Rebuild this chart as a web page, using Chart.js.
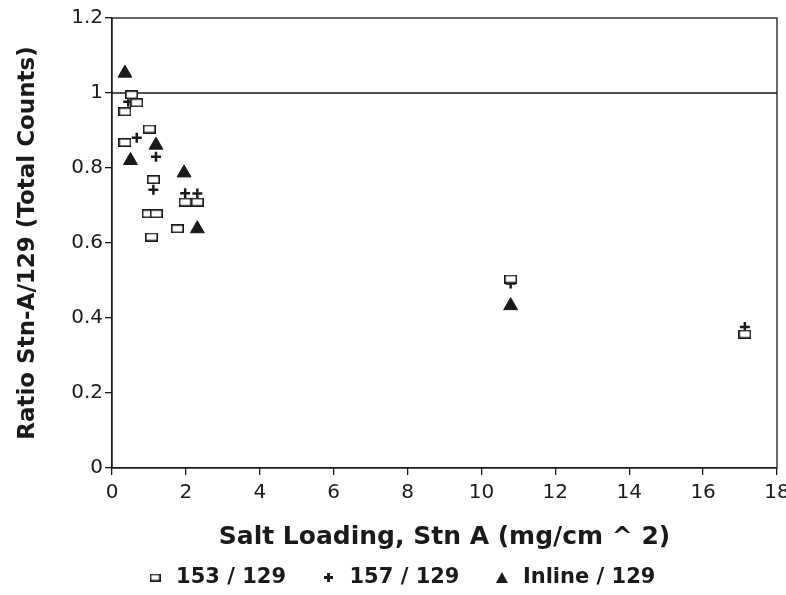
<!DOCTYPE html>
<html lang="en">
<head>
    <meta charset="UTF-8">
    <title>Ratio Stn-A/129 vs Salt Loading</title>
    <script src="https://cdn.jsdelivr.net/npm/chart.js"></script>
    <style>
        body { margin: 0; background: #fff; overflow: hidden; }
        canvas { display: block; }
    </style>
</head>
<body>
    <canvas id="chart" width="786" height="595"></canvas>
    <script>
        // data
        const x153 = [0.53, 0.67, 0.35, 1.01, 0.35, 1.12, 1.98, 2.31, 0.98, 1.2, 1.77, 1.07, 10.79, 17.13];
        const y153 = [0.995, 0.974, 0.95, 0.904, 0.868, 0.769, 0.709, 0.709, 0.678, 0.678, 0.638, 0.616, 0.504, 0.357];
        const x157 = [0.44, 0.67, 1.19, 1.12, 1.98, 2.31, 10.79, 17.13];
        const y157 = [0.977, 0.881, 0.83, 0.742, 0.733, 0.732, 0.492, 0.376];
        const xInline = [0.35, 1.19, 0.5, 1.95, 2.31, 10.79];
        const yInline = [1.053, 0.861, 0.82, 0.787, 0.638, 0.433];
        const refX = [0, 18];
        const refY = [1, 1];
        const xTicks = [0, 2, 4, 6, 8, 10, 12, 14, 16, 18];
        const yTicks = [0, 0.2, 0.4, 0.6, 0.8, 1, 1.2];

        const ink = '#1a1a1a';
        const font = '"DejaVu Sans", sans-serif';

        const pts = (xs, ys) => xs.map((x, i) => ({ x: x, y: ys[i] }));

        function makeCanvas(w, h, draw) {
            const c = document.createElement('canvas');
            c.width = w; c.height = h;
            draw(c.getContext('2d'), w, h);
            return c;
        }

        // wide hollow box marker like the scan
        const boxDraw = (g, w, h) => {
            g.fillStyle = '#fff';
            g.fillRect(0, 0, w, h);
            g.strokeStyle = ink;
            g.lineWidth = 1.6;
            g.strokeRect(0.8, 0.8, w - 1.6, h - 1.6);
        };
        const box = makeCanvas(13, 9, boxDraw);
        const boxSmall = makeCanvas(11, 8, boxDraw);
        const plusSmall = makeCanvas(9, 9, (g) => {
            g.fillStyle = ink;
            g.fillRect(0, 3, 9, 3);
            g.fillRect(3, 0, 3, 9);
        });
        const triSmall = makeCanvas(12, 11, (g) => {
            g.fillStyle = ink;
            g.beginPath();
            g.moveTo(6, 0); g.lineTo(12, 11); g.lineTo(0, 11);
            g.closePath();
            g.fill();
        });
        const legendMarks = { '153 / 129': boxSmall, '157 / 129': plusSmall, 'Inline / 129': triSmall };

        const frame = {
            id: 'frame',
            afterDraw(chart) {
                const a = chart.chartArea, ctx = chart.ctx;
                ctx.save();
                ctx.strokeStyle = ink;
                ctx.lineWidth = 1.3;
                ctx.strokeRect(a.left, a.top, a.right - a.left, a.bottom - a.top);
                ctx.restore();
            }
        };

        new Chart(document.getElementById('chart'), {
            type: 'scatter',
            data: {
                datasets: [
                    {
                        label: 'ref',
                        data: pts(refX, refY),
                        showLine: true,
                        borderColor: ink,
                        borderWidth: 1.3,
                        pointRadius: 0,
                        order: 5
                    },
                    {
                        label: '153 / 129',
                        data: pts(x153, y153),
                        pointStyle: box,
                        borderColor: ink,
                        backgroundColor: '#fff'
                    },
                    {
                        label: '157 / 129',
                        data: pts(x157, y157),
                        pointStyle: 'cross',
                        pointRadius: 5,
                        pointBorderWidth: 2.5,
                        borderColor: ink,
                        backgroundColor: ink
                    },
                    {
                        label: 'Inline / 129',
                        data: pts(xInline, yInline),
                        pointStyle: 'triangle',
                        pointRadius: 8,
                        borderColor: ink,
                        backgroundColor: ink
                    }
                ]
            },
            options: {
                responsive: false,
                animation: false,
                layout: { padding: { left: 14, right: 0, top: 18, bottom: -3 } },
                scales: {
                    x: {
                        type: 'linear',
                        min: 0, max: 18,
                        afterBuildTicks: s => { s.ticks = xTicks.map(v => ({ value: v })); },
                        afterFit: s => { s.paddingRight = 9; },
                        grid: { drawOnChartArea: false, color: ink, tickLength: 7, lineWidth: 1.3 },
                        border: { color: ink, width: 1.3 },
                        ticks: { color: ink, font: { family: font, size: 20 }, padding: 6, maxRotation: 0, autoSkip: false },
                        title: {
                            display: true,
                            text: 'Salt Loading, Stn A (mg/cm ^ 2)',
                            color: ink,
                            font: { family: font, size: 25, weight: 'bold' },
                            padding: { top: 11, bottom: 5 }
                        }
                    },
                    y: {
                        type: 'linear',
                        min: 0, max: 1.2,
                        afterBuildTicks: s => { s.ticks = yTicks.map(v => ({ value: v })); },
                        afterFit: s => { s.width = 98; },
                        grid: { drawOnChartArea: false, color: ink, tickLength: 7, lineWidth: 1.3 },
                        border: { color: ink, width: 1.3 },
                        ticks: {
                            color: ink, font: { family: font, size: 20 }, padding: 2, autoSkip: false,
                            callback: v => String(v)
                        },
                        title: {
                            display: true,
                            text: 'Ratio Stn-A/129 (Total Counts)',
                            color: ink,
                            font: { family: font, size: 23, weight: 'bold' },
                            padding: { top: 0, bottom: 4 }
                        }
                    }
                },
                plugins: {
                    tooltip: { enabled: false },
                    legend: {
                        position: 'bottom',
                        labels: {
                            usePointStyle: true,
                            color: ink,
                            padding: 10,
                            font: { family: font, size: 21, weight: 'bold' },
                            generateLabels: chart => {
                                const items = Chart.defaults.plugins.legend.labels.generateLabels(chart)
                                    .filter(it => it.datasetIndex !== 0);
                                items.forEach(it => {
                                    if (legendMarks[it.text]) it.pointStyle = legendMarks[it.text];
                                    // wider gaps between entries, as in the scan
                                    if (it.text !== 'Inline / 129') it.text = it.text + '   ';
                                });
                                return items;
                            }
                        }
                    }
                }
            },
            plugins: [frame]
        });
    </script>
</body>
</html>
